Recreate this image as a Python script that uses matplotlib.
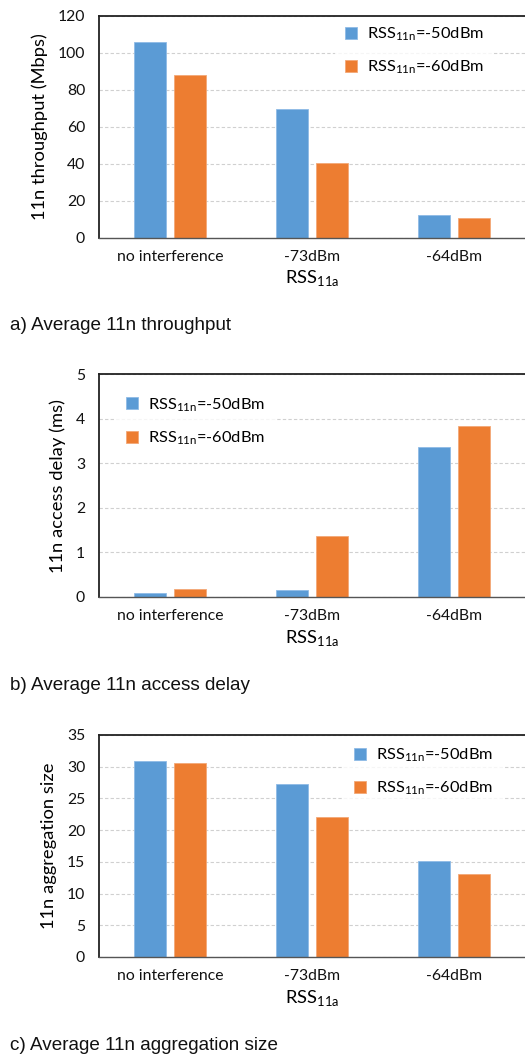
import numpy as np
import matplotlib
matplotlib.use('Agg')
import matplotlib.pyplot as plt

plt.rcParams['font.family'] = ['Lato', 'DejaVu Sans']
plt.rcParams['mathtext.fontset'] = 'custom'
plt.rcParams['mathtext.rm'] = 'Lato'

# data
categories = ['no interference', '-73dBm', '-64dBm']
series_labels = [r'RSS$_{\mathregular{11n}}$=-50dBm', r'RSS$_{\mathregular{11n}}$=-60dBm']

throughput_50 = [106, 69.5, 12.4]
throughput_60 = [87.7, 40.3, 10.8]

delay_50 = [0.10, 0.16, 3.37]
delay_60 = [0.19, 1.36, 3.85]

aggr_50 = [30.9, 27.2, 15.2]
aggr_60 = [30.6, 22.1, 13.1]

blue = '#5B9BD5'
orange = '#ED7D31'

W, H = 525, 1056
fig = plt.figure(figsize=(W / 100, H / 100), dpi=100, facecolor='white')


def px_axes(left, top, bottom, right=W):
    return fig.add_axes([left / W, 1 - bottom / H, (right - left) / W, (bottom - top) / H])


panels = [
    # top, bottom, values, ylabel, ylim, yticks, legend anchor, caption, caption y
    (15.7, 237.7, throughput_50, throughput_60, '11n throughput (Mbps)', 120, np.arange(0, 121, 20),
     (0.534, 1.038), 'a) Average 11n throughput', 325),
    (374.3, 597, delay_50, delay_60, '11n access delay (ms)', 5, np.arange(0, 6, 1),
     (0.021, 0.983), 'b) Average 11n access delay', 686),
    (735, 957, aggr_50, aggr_60, '11n aggregation size', 35, np.arange(0, 36, 5),
     (0.556, 1.03), 'c) Average 11n aggregation size', 1046),
]

x = np.arange(len(categories))
bw = 0.225
off = 0.141

for top, bottom, v50, v60, ylabel, ymax, yticks, anchor, caption, cy in panels:
    ax = px_axes(99, top, bottom)
    ax.bar(x - off, v50, bw, color=blue, edgecolor='#8fbbe6', linewidth=0.6, label=series_labels[0], zorder=3)
    ax.bar(x + off, v60, bw, color=orange, edgecolor='#f3a877', linewidth=0.6, label=series_labels[1], zorder=3)
    ax.set_xlim(-0.5, 2.5)
    ax.set_ylim(0, ymax)
    ax.set_yticks(yticks)
    ax.set_xticks(x)
    ax.set_xticklabels(categories)
    ax.tick_params(axis='both', length=0, labelsize=11.3, colors='#111111')
    ax.tick_params(axis='x', pad=9)
    ax.tick_params(axis='y', pad=10)
    ax.yaxis.grid(True, linestyle=(0, (3, 2)), color='#d0d0d0', linewidth=0.8, zorder=0)
    ax.set_axisbelow(True)
    ax.set_ylabel(ylabel, fontsize=13.2, labelpad=7)
    ax.set_xlabel(r'RSS$_{\mathregular{11a}}$', fontsize=13.2, labelpad=3)
    for s in ['top', 'left']:
        ax.spines[s].set_color('#222222')
        ax.spines[s].set_linewidth(1.3)
    ax.spines['bottom'].set_color('#555555')
    ax.spines['bottom'].set_linewidth(1.0)
    ax.spines['right'].set_visible(False)
    for s in ax.spines.values():
        s.set_zorder(6)
    leg = ax.legend(loc='upper left', bbox_to_anchor=anchor, frameon=True, fontsize=11.8,
                    handlelength=0.75, handleheight=0.75, handletextpad=0.6,
                    labelspacing=0.95, borderpad=0.6, fancybox=False)
    leg.set_zorder(5)
    leg.get_frame().set_facecolor('white')
    leg.get_frame().set_edgecolor('none')
    fig.text(10 / W, 1 - cy / H, caption, fontsize=13.6, family=['Liberation Sans'],
             va='center', ha='left', color='#111111')

plt.savefig('out.png', dpi=100, facecolor='white')
